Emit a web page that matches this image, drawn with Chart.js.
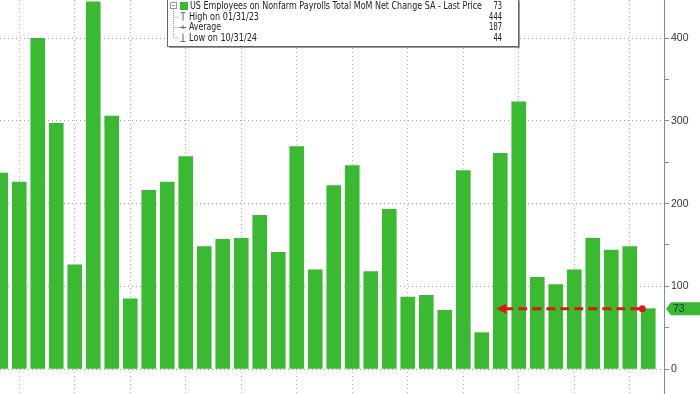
<!DOCTYPE html>
<html>
<head>
<meta charset="utf-8">
<script src="https://cdn.jsdelivr.net/npm/chart.js@4.4.1/dist/chart.umd.min.js"></script>
<style>
  body { margin: 0; background: #fff; }
  #wrap { position: relative; width: 700px; height: 394px; }
</style>
</head>
<body>
<div id="wrap"><canvas id="chart"></canvas></div>
<script>
// monthly net change, Aug 2022 .. Jul 2025 (thousands)
const months = ['Aug 22','Sep 22','Oct 22','Nov 22','Dec 22','Jan 23','Feb 23','Mar 23','Apr 23','May 23','Jun 23','Jul 23',
                'Aug 23','Sep 23','Oct 23','Nov 23','Dec 23','Jan 24','Feb 24','Mar 24','Apr 24','May 24','Jun 24','Jul 24',
                'Aug 24','Sep 24','Oct 24','Nov 24','Dec 24','Jan 25','Feb 25','Mar 25','Apr 25','May 25','Jun 25','Jul 25'];
const payrolls = [237, 226, 400, 297, 126, 444, 306, 85, 216, 226, 257, 148,
                  157, 158, 186, 141, 269, 120, 222, 246, 118, 193, 87, 89,
                  71, 240, 44, 261, 323, 111, 102, 120, 158, 144, 148, 73];
const yTicks = [0, 50, 100, 150, 200, 250, 300, 350, 400];
const gridMonths = [1, 4, 7, 10, 13, 16, 19, 22, 25, 28, 31, 34];
const legendRows = [
    ['US Employees on Nonfarm Payrolls Total MoM Net Change SA - Last Price', '73'],
    ['High on 01/31/23', '444'],
    ['Average', '187'],
    ['Low on 10/31/24', '44']
];
const lastPrice = 73;
const arrowFrom = 27;
const arrowTo = 35;

const GREEN = '#3bb933';

const overlay = {
    id: 'overlay',
    afterDraw(c) {
        const ctx = c.ctx;
        const x = c.scales.x, y = c.scales.y;
        const yy = y.getPixelForValue(lastPrice);

        // red dashed arrow
        const x0 = x.getPixelForValue(arrowFrom) - 4;
        const x1 = x.getPixelForValue(arrowTo) - 6;
        ctx.save();
        ctx.strokeStyle = '#d81a10';
        ctx.fillStyle = '#d81a10';
        ctx.lineWidth = 3;
        ctx.setLineDash([9, 5]);
        ctx.beginPath();
        ctx.moveTo(x0 + 8, yy);
        ctx.lineTo(x1, yy);
        ctx.stroke();
        ctx.setLineDash([]);
        ctx.beginPath();
        ctx.moveTo(x0, yy);
        ctx.lineTo(x0 + 10, yy - 5);
        ctx.lineTo(x0 + 10, yy + 5);
        ctx.closePath();
        ctx.fill();
        ctx.beginPath();
        ctx.arc(x1, yy, 3.5, 0, Math.PI * 2);
        ctx.fill();
        ctx.restore();

        // last price tag
        const r = y.right;
        ctx.save();
        ctx.fillStyle = GREEN;
        ctx.beginPath();
        ctx.moveTo(y.left + 2, yy);
        ctx.lineTo(y.left + 7, yy - 6.5);
        ctx.lineTo(r, yy - 6.5);
        ctx.lineTo(r, yy + 6.5);
        ctx.lineTo(y.left + 7, yy + 6.5);
        ctx.closePath();
        ctx.fill();
        ctx.fillStyle = '#123312';
        ctx.font = '10.5px "Liberation Sans"';
        ctx.textBaseline = 'middle';
        ctx.fillText(String(lastPrice), y.left + 9, yy + 0.5);
        ctx.restore();

        // legend box
        const bx = 167.5, by = -1, bw = 351, bh = 47.5;
        ctx.save();
        ctx.fillStyle = '#9a9a9a';
        ctx.fillRect(bx + 1.5, by + 1.5, bw, bh);
        ctx.fillStyle = '#fff';
        ctx.fillRect(bx, by, bw, bh);
        ctx.strokeStyle = '#666';
        ctx.lineWidth = 1;
        ctx.strokeRect(bx, by, bw, bh);

        const rowY = [6, 16.7, 27, 37.5];
        // tree lines
        ctx.strokeStyle = '#999';
        ctx.setLineDash([1, 1]);
        ctx.beginPath();
        ctx.moveTo(173.5, 9);
        ctx.lineTo(173.5, rowY[3]);
        for (let i = 1; i < 4; i++) {
            ctx.moveTo(173.5, rowY[i] + 0.5);
            ctx.lineTo(179, rowY[i] + 0.5);
        }
        ctx.stroke();
        ctx.setLineDash([]);
        ctx.strokeRect(170.5, 2.5, 6, 6);
        ctx.beginPath();
        ctx.moveTo(172, 5.5); ctx.lineTo(175, 5.5);
        ctx.stroke();

        // series swatch and marker icons
        ctx.fillStyle = GREEN;
        ctx.fillRect(180, 2, 8, 8);
        ctx.strokeStyle = '#666';
        ctx.beginPath();
        ctx.moveTo(180.5, rowY[1] - 4); ctx.lineTo(185.5, rowY[1] - 4);
        ctx.moveTo(183, rowY[1] - 4); ctx.lineTo(183, rowY[1] + 4);
        ctx.moveTo(179.5, rowY[2] + 0.5); ctx.lineTo(186.5, rowY[2] + 0.5);
        ctx.moveTo(183, rowY[2] - 2); ctx.lineTo(183, rowY[2] + 2);
        ctx.moveTo(180.5, rowY[3] + 4); ctx.lineTo(185.5, rowY[3] + 4);
        ctx.moveTo(183, rowY[3] - 4); ctx.lineTo(183, rowY[3] + 4);
        ctx.stroke();

        // Bloomberg's legend font is narrow, so squeeze each row to its width
        const rowWidths = [292, 70, 32, 68];
        ctx.fillStyle = '#222';
        ctx.font = '10px "DejaVu Sans"';
        ctx.textBaseline = 'middle';
        legendRows.forEach((row, i) => {
            ctx.textAlign = 'left';
            ctx.fillText(row[0], i === 0 ? 190 : 189, rowY[i] + 0.5, rowWidths[i]);
            ctx.textAlign = 'right';
            ctx.fillText(row[1], 502, rowY[i] + 0.5, row[1].length * 4.3);
        });
        ctx.restore();
    }
};

new Chart(document.getElementById('chart'), {
    type: 'bar',
    data: {
        datasets: [{
            label: 'US Employees on Nonfarm Payrolls Total MoM Net Change SA',
            data: payrolls.map((v, i) => ({ x: i, y: v })),
            backgroundColor: GREEN,
            borderWidth: 0,
            barThickness: 14
        }]
    },
    options: {
        responsive: true,
        maintainAspectRatio: false,
        animation: false,
        layout: { padding: 0 },
        plugins: {
            legend: { display: false },
            tooltip: { enabled: false }
        },
        scales: {
            x: {
                type: 'linear',
                offset: false,
                min: -0.04,
                max: 35.85,
                afterBuildTicks: s => { s.ticks = gridMonths.map(v => ({ value: v })); },
                afterFit: s => {
                    s.height = 0;
                    s.paddingLeft = 0; s.paddingRight = 0; s.paddingTop = 0; s.paddingBottom = 0;
                },
                ticks: { display: false },
                grid: { color: '#b5b5b5', lineWidth: 1, drawTicks: false, offset: false },
                border: { display: false, dash: [1, 3] }
            },
            y: {
                position: 'right',
                min: -30.2,
                max: 446.3,
                afterBuildTicks: s => { s.ticks = yTicks.map(v => ({ value: v })); },
                afterFit: s => {
                    s.width = 36;
                    s.paddingLeft = 0; s.paddingRight = 0; s.paddingTop = 0; s.paddingBottom = 0;
                },
                ticks: {
                    padding: 2,
                    color: '#333',
                    font: { family: 'Liberation Sans', size: 10.5 },
                    callback: v => (v % 100 === 0 ? v : '')
                },
                grid: {
                    color: c => (c.tick && c.tick.value % 100 === 0 ? '#a8a8a8' : 'rgba(0,0,0,0)'),
                    tickColor: '#7a957a',
                    tickLength: 5,
                    lineWidth: 1
                },
                border: { display: true, color: '#7a957a', width: 1, dash: [1, 3] }
            }
        }
    },
    plugins: [overlay]
});
</script>
</body>
</html>
